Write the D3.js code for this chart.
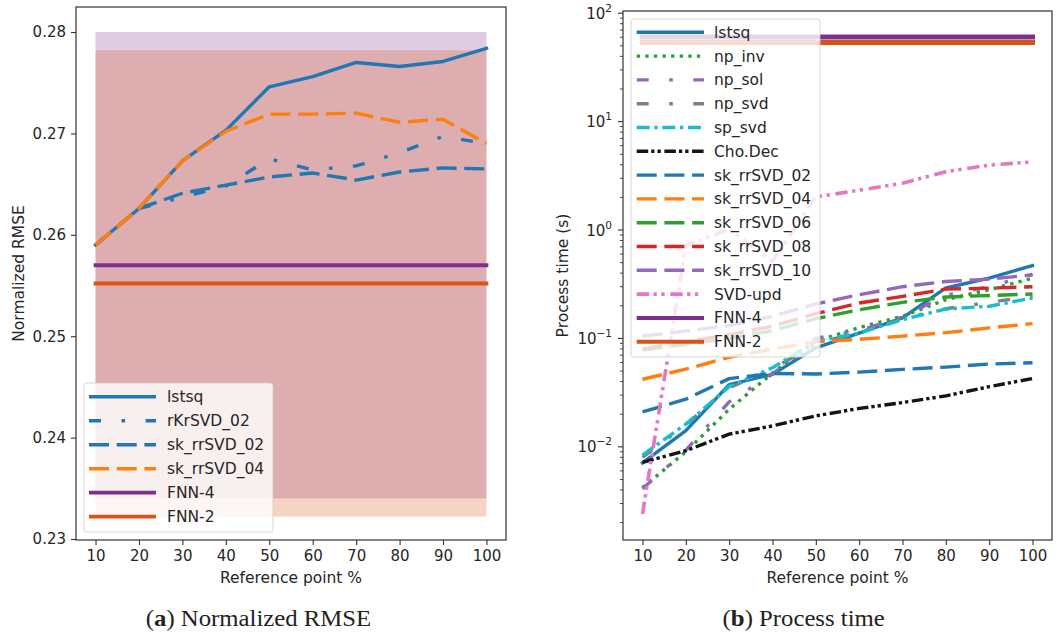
<!DOCTYPE html>
<html>
<head>
<meta charset="utf-8">
<script src="https://cdn.jsdelivr.net/npm/d3@7"></script>
<style>
  html, body { margin: 0; padding: 0; background: #fff; }
  svg { display: block; }
  text { font-family: "DejaVu Sans", sans-serif; fill: #262626; }
  .caption { font-family: "Liberation Serif", "DejaVu Serif", serif; fill: #222; }
</style>
</head>
<body>
<svg id="chart" width="1057" height="636"></svg>
<script>
// ---- data ---------------------------------------------------------------
const refPoints = [10, 20, 30, 40, 50, 60, 70, 80, 90, 100];

// (a) normalized RMSE
const rmseLstsq    = [0.2590, 0.2626, 0.2673, 0.2703, 0.2746, 0.2756, 0.2770, 0.2766, 0.2771, 0.2784];
const rmseRKrSVD02 = [0.2590, 0.2626, 0.2637, 0.2648, 0.2675, 0.2664, 0.2668, 0.2681, 0.2697, 0.2690];
const rmseSkRr02   = [0.2590, 0.2626, 0.2641, 0.2649, 0.2657, 0.2661, 0.2654, 0.2662, 0.2666, 0.2665];
const rmseSkRr04   = [0.2590, 0.2626, 0.2673, 0.2702, 0.2719, 0.2719, 0.2720, 0.2711, 0.2714, 0.2690];
const rmseFnn4 = 0.2570;
const rmseFnn2 = 0.2552;
const rmseFnn4Band = [0.2340, 0.2800];
const rmseFnn2Band = [0.2322, 0.2782];
const rmseTicks = [0.23, 0.24, 0.25, 0.26, 0.27, 0.28];

// (b) process time in seconds
const timeLstsq   = [0.0071, 0.0141, 0.0375, 0.0466, 0.082, 0.112, 0.155, 0.292, 0.36, 0.47];
const timeNpInv   = [0.0042, 0.0090, 0.0222, 0.048, 0.094, 0.126, 0.160, 0.228, 0.281, 0.360];
const timeNpSol   = [0.0041, 0.0093, 0.026, 0.047, 0.100, 0.118, 0.158, 0.250, 0.300, 0.390];
const timeNpSvd   = [0.0080, 0.0160, 0.0350, 0.0520, 0.090, 0.113, 0.152, 0.188, 0.215, 0.245];
const timeSpSvd   = [0.0084, 0.0162, 0.0359, 0.0537, 0.094, 0.112, 0.149, 0.187, 0.198, 0.236];
const timeChoDec  = [0.0072, 0.0092, 0.0131, 0.0156, 0.0193, 0.0226, 0.0256, 0.0295, 0.0359, 0.0426];
const timeSkRr02  = [0.0210, 0.0275, 0.0426, 0.0475, 0.0470, 0.0489, 0.0518, 0.0544, 0.0580, 0.0596];
const timeSkRr04  = [0.042, 0.052, 0.067, 0.080, 0.093, 0.098, 0.105, 0.113, 0.125, 0.137];
const timeSkRr06  = [0.078, 0.088, 0.100, 0.118, 0.152, 0.184, 0.215, 0.241, 0.249, 0.257];
const timeSkRr08  = [0.080, 0.093, 0.108, 0.130, 0.169, 0.212, 0.244, 0.285, 0.291, 0.300];
const timeSkRr10  = [0.105, 0.117, 0.131, 0.160, 0.208, 0.253, 0.300, 0.335, 0.352, 0.386];
const timeSvdUpd  = [0.0024, 0.72, 1.02, 0.51, 2.02, 2.33, 2.70, 3.45, 3.97, 4.25];
const timeFnn4 = 60.4;
const timeFnn2 = 53.6;
const timeTickExponents = [-2, -1, 0, 1, 2];

const xTicks = [10, 20, 30, 40, 50, 60, 70, 80, 90, 100];

// ---- styles -------------------------------------------------------------
const C = {
  blue: "#1f77b4", orange: "#ff7f0e", green: "#2ca02c", red: "#d62728",
  purple: "#9467bd", gray: "#7f7f7f", cyan: "#17becf", pink: "#e377c2",
  black: "#141414", fnn4: "#7E2F8E", fnn2: "#D95319"
};
const DASH = {
  solid: null,
  dashed: "20,7.7",
  dotted: "3.3,5.3",
  looseDashDot: "12,20.5,3.6,20.5",
  dashDot: "13,4.6,3.4,4.6",
  dashDotDot: "11.5,3,3.3,3,3.3,3.6",
  svdUpd: "12.3,4.5,3.3,4.5,3.3,5.7"
};

const svg = d3.select("#chart");
const SPINE = "#333";

// ---- helpers ------------------------------------------------------------
function drawFrame(g, box) {
  g.append("rect")
    .attr("x", box.left).attr("y", box.top)
    .attr("width", box.right - box.left).attr("height", box.bottom - box.top)
    .attr("fill", "none").attr("stroke", SPINE).attr("stroke-width", 1.2);
}

function drawXAxis(g, x, box) {
  const ax = g.append("g").attr("transform", `translate(0,${box.bottom})`)
    .call(d3.axisBottom(x).tickValues(xTicks).tickSize(5).tickPadding(5).tickFormat(d3.format("d")));
  ax.select(".domain").remove();
  ax.selectAll(".tick line").attr("stroke", SPINE).attr("stroke-width", 1.1);
  ax.selectAll(".tick text").attr("font-size", 15).attr("fill", "#262626")
    .attr("font-family", "DejaVu Sans");
  g.append("text")
    .attr("x", (box.left + box.right) / 2).attr("y", 583)
    .attr("text-anchor", "middle").attr("font-size", 15.5)
    .text("Reference point %");
}

function drawLegend(g, entries, box) {
  const lg = g.append("g");
  lg.append("rect")
    .attr("x", box.x).attr("y", box.y).attr("width", box.w).attr("height", box.h)
    .attr("rx", 3).attr("ry", 3)
    .attr("fill", "#fff").attr("fill-opacity", 0.8)
    .attr("stroke", "#cccccc").attr("stroke-opacity", 0.8).attr("stroke-width", 1);
  entries.forEach((e, i) => {
    const yy = box.y0 + i * box.step;
    lg.append("line")
      .attr("x1", box.hx0).attr("x2", box.hx1).attr("y1", yy).attr("y2", yy)
      .attr("stroke", e.color).attr("stroke-width", e.legendWidth || e.width)
      .attr("stroke-dasharray", e.dash)
      .attr("stroke-linecap", "butt");
    lg.append("text")
      .attr("x", box.tx).attr("y", yy + 5.5)
      .attr("font-size", 15.5)
      .text(e.name);
  });
}

function drawSeries(g, x, y, s) {
  const line = d3.line().x((d, i) => x(refPoints[i])).y(d => y(d));
  g.append("path")
    .datum(s.values)
    .attr("d", line)
    .attr("fill", "none")
    .attr("stroke", s.color)
    .attr("stroke-width", s.width)
    .attr("stroke-dasharray", s.dash)
    .attr("stroke-linejoin", "round")
    .attr("stroke-linecap", s.dash ? "butt" : "square");
}

function drawConstant(g, x, y, s) {
  const ext = d3.extent(refPoints);
  g.append("line")
    .attr("x1", x(ext[0])).attr("x2", x(ext[1]))
    .attr("y1", y(s.value)).attr("y2", y(s.value))
    .attr("stroke", s.color).attr("stroke-width", s.width)
    .attr("stroke-linecap", "square");
}

function drawCaption(g, cx, letter, rest) {
  // serif caption, widened a little horizontally
  const t = g.append("g").attr("transform", `translate(${cx},626) scale(1.1,1)`)
    .append("text").attr("class", "caption")
    .attr("x", 0).attr("y", 0).attr("text-anchor", "middle")
    .attr("font-size", 22.5);
  t.append("tspan").text("(");
  t.append("tspan").attr("font-weight", "bold").text(letter);
  t.append("tspan").text(") " + rest);
}

// ---- panel (a): normalized RMSE ----------------------------------------
{
  const box = { left: 76, right: 506, top: 7, bottom: 540 };
  const g = svg.append("g");
  const x = d3.scaleLinear().domain([5.5, 104.5]).range([box.left, box.right]);
  const y = d3.scaleLinear().domain([0.22990, 0.28247]).range([box.bottom, box.top]);

  // spread bands of the two networks
  const ext = d3.extent(refPoints);
  [[rmseFnn4Band, C.fnn4], [rmseFnn2Band, C.fnn2]].forEach(([band, col]) => {
    g.append("rect")
      .attr("x", x(ext[0])).attr("width", x(ext[1]) - x(ext[0]))
      .attr("y", y(band[1])).attr("height", y(band[0]) - y(band[1]))
      .attr("fill", col).attr("fill-opacity", 0.25);
  });

  const series = [
    { name: "lstsq",       values: rmseLstsq,    color: C.blue,   dash: DASH.solid,        width: 3.4 },
    { name: "rKrSVD_02",   values: rmseRKrSVD02, color: C.blue,   dash: DASH.looseDashDot, width: 3.4 },
    { name: "sk_rrSVD_02", values: rmseSkRr02,   color: C.blue,   dash: DASH.dashed,       width: 3.4 },
    { name: "sk_rrSVD_04", values: rmseSkRr04,   color: C.orange, dash: DASH.dashed,       width: 3.4 }
  ];
  series.forEach(s => drawSeries(g, x, y, s));
  const consts = [
    { name: "FNN-4", value: rmseFnn4, color: C.fnn4, width: 3.8 },
    { name: "FNN-2", value: rmseFnn2, color: C.fnn2, width: 3.8 }
  ];
  consts.forEach(s => drawConstant(g, x, y, s));

  // y axis
  const ay = g.append("g").attr("transform", `translate(${box.left},0)`)
    .call(d3.axisLeft(y).tickValues(rmseTicks).tickSize(5).tickPadding(5).tickFormat(d3.format(".2f")));
  ay.select(".domain").remove();
  ay.selectAll(".tick line").attr("stroke", SPINE).attr("stroke-width", 1.1);
  ay.selectAll(".tick text").attr("font-size", 15).attr("fill", "#262626").attr("font-family", "DejaVu Sans");

  drawXAxis(g, x, box);
  drawFrame(g, box);

  g.append("text")
    .attr("transform", `translate(23.5,${(box.top + box.bottom) / 2}) rotate(-90)`)
    .attr("text-anchor", "middle").attr("font-size", 15.5)
    .text("Normalized RMSE");

  drawLegend(g, series.concat(consts), {
    x: 84, y: 383, w: 189, h: 149, y0: 396.7, step: 24,
    hx0: 89, hx1: 156, tx: 167
  });

  drawCaption(g, 258.5, "a", "Normalized RMSE");
}

// ---- panel (b): process time -------------------------------------------
{
  const box = { left: 623, right: 1052, top: 11, bottom: 540 };
  const g = svg.append("g");
  const x = d3.scaleLinear().domain([5.5, 104.5]).range([box.left, box.right]);
  const y = d3.scaleLog().domain([0.001382, 104.8]).range([box.bottom, box.top]);

  const series = [
    { name: "lstsq",       values: timeLstsq,  color: C.blue,   dash: DASH.solid,        width: 3.4 },
    { name: "np_inv",      values: timeNpInv,  color: C.green,  dash: DASH.dotted,       width: 3.4 },
    { name: "np_sol",      values: timeNpSol,  color: C.purple, dash: DASH.looseDashDot, width: 3.4 },
    { name: "np_svd",      values: timeNpSvd,  color: C.gray,   dash: DASH.looseDashDot, width: 3.4 },
    { name: "sp_svd",      values: timeSpSvd,  color: C.cyan,   dash: DASH.dashDot,      width: 3.4 },
    { name: "Cho.Dec",     values: timeChoDec, color: C.black,  dash: DASH.dashDotDot,   width: 3.4 },
    { name: "sk_rrSVD_02", values: timeSkRr02, color: C.blue,   dash: DASH.dashed,       width: 3.4 },
    { name: "sk_rrSVD_04", values: timeSkRr04, color: C.orange, dash: DASH.dashed,       width: 3.4 },
    { name: "sk_rrSVD_06", values: timeSkRr06, color: C.green,  dash: DASH.dashed,       width: 3.4 },
    { name: "sk_rrSVD_08", values: timeSkRr08, color: C.red,    dash: DASH.dashed,       width: 3.4 },
    { name: "sk_rrSVD_10", values: timeSkRr10, color: C.purple, dash: DASH.dashed,       width: 3.4 },
    { name: "SVD-upd",     values: timeSvdUpd, color: C.pink,   dash: DASH.svdUpd,       width: 3.6 }
  ];
  series.forEach(s => drawSeries(g, x, y, s));
  const consts = [
    { name: "FNN-4", value: timeFnn4, color: C.fnn4, width: 5, legendWidth: 4 },
    { name: "FNN-2", value: timeFnn2, color: C.fnn2, width: 5, legendWidth: 4 }
  ];
  consts.forEach(s => drawConstant(g, x, y, s));

  // log y axis: major ticks at decades, minor ticks at 2..9
  const ay = g.append("g");
  const [lo, hi] = y.domain();
  const minor = [];
  for (let e = -3; e <= 2; e++) {
    for (let m = 2; m <= 9; m++) {
      const v = m * Math.pow(10, e);
      if (v >= lo && v <= hi) minor.push(v);
    }
  }
  ay.selectAll("line.minor").data(minor).join("line")
    .attr("x1", box.left - 3).attr("x2", box.left)
    .attr("y1", d => y(d)).attr("y2", d => y(d))
    .attr("stroke", SPINE).attr("stroke-width", 0.9);
  const major = timeTickExponents.map(e => ({ e, v: Math.pow(10, e) }));
  ay.selectAll("line.major").data(major).join("line")
    .attr("x1", box.left - 5).attr("x2", box.left)
    .attr("y1", d => y(d.v)).attr("y2", d => y(d.v))
    .attr("stroke", SPINE).attr("stroke-width", 1.1);
  const labels = ay.selectAll("text.tl").data(major).join("text")
    .attr("x", box.left - 11).attr("y", d => y(d.v) + 5.5)
    .attr("text-anchor", "end").attr("font-size", 15);
  labels.append("tspan").text("10");
  labels.append("tspan").attr("dy", -7).attr("font-size", 10.5)
    .text(d => (d.e < 0 ? "\u2212" + (-d.e) : String(d.e)));

  drawXAxis(g, x, box);
  drawFrame(g, box);

  g.append("text")
    .attr("transform", `translate(567.5,${(box.top + box.bottom) / 2}) rotate(-90)`)
    .attr("text-anchor", "middle").attr("font-size", 15.5)
    .text("Process time (s)");

  drawLegend(g, series.concat(consts), {
    x: 631, y: 19, w: 189, h: 338, y0: 32.3, step: 23.8,
    hx0: 636.7, hx1: 704, tx: 714
  });

  drawCaption(g, 803.7, "b", "Process time");
}
</script>
</body>
</html>
